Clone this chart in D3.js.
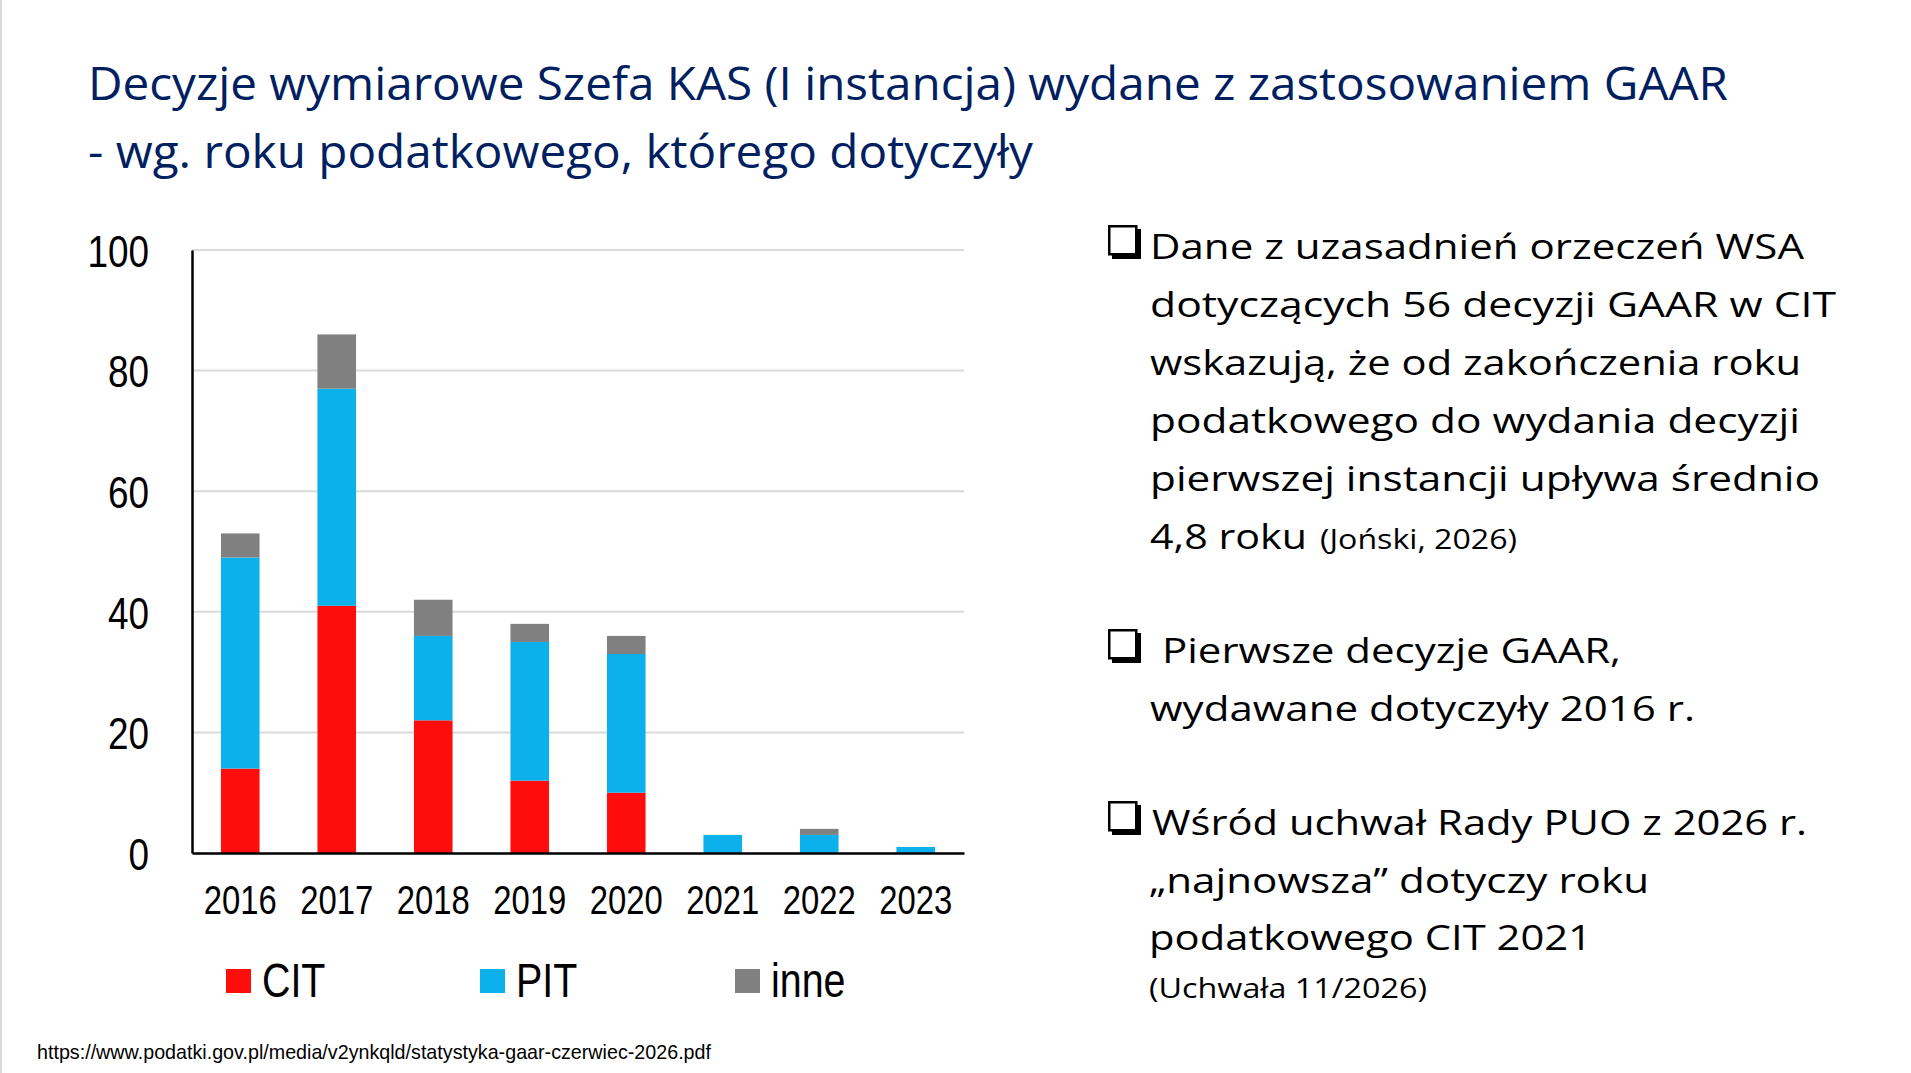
<!DOCTYPE html>
<html>
<head>
<meta charset="utf-8">
<script src="https://cdn.jsdelivr.net/npm/d3@7"></script>
<style>
  html, body { margin: 0; padding: 0; background: #fff; }
  svg { display: block; }
</style>
</head>
<body>
<div id="chart"></div>
<script>
// data
const years = ["2016", "2017", "2018", "2019", "2020", "2021", "2022", "2023"];
const citValues = [14, 41, 22, 12, 10, 0, 0, 0];
const pitValues = [35, 36, 14, 23, 23, 3, 3, 1];
const inneValues = [4, 9, 6, 3, 3, 0, 1, 0];
const seriesKeys = ["CIT", "PIT", "inne"];
const yTicks = [0, 20, 40, 60, 80, 100];

const titleLines = [
  "Decyzje wymiarowe Szefa KAS (I instancja) wydane z zastosowaniem GAAR",
  "- wg. roku podatkowego, którego dotyczyły"
];
const note1 = [
  "Dane z uzasadnień orzeczeń WSA",
  "dotyczących 56 decyzji GAAR w CIT",
  "wskazują, że od zakończenia roku",
  "podatkowego do wydania decyzji",
  "pierwszej instancji upływa średnio",
  "4,8 roku"
];
const note1Source = "(Joński, 2026)";
const note2 = ["Pierwsze decyzje GAAR,", "wydawane dotyczyły 2016 r."];
const note3 = ["Wśród uchwał Rady PUO z 2026 r.", "„najnowsza” dotyczy roku", "podatkowego CIT 2021"];
const note3Source = "(Uchwała 11/2026)";
const sourceUrl = "https://www.podatki.gov.pl/media/v2ynkqld/statystyka-gaar-czerwiec-2026.pdf";

const width = 1911,
  height = 1073,
  plot = { left: 192, right: 964, top: 250, bottom: 853 },
  narrow = "'Liberation Sans Narrow', 'Arial Narrow', 'Liberation Sans', Arial, sans-serif",
  calibriLike = "'Open Sans', 'Noto Sans', sans-serif",
  narrowFactor = 0.82; // Arial Narrow is ~82% of Arial

const colourScale = d3.scaleOrdinal()
  .domain(seriesKeys)
  .range(["#ff0d0d", "#0cb0ea", "#808080"]);

const rows = years.map((yr, i) => ({
  year: yr, CIT: citValues[i], PIT: pitValues[i], inne: inneValues[i]
}));

const stack = d3.stack().keys(seriesKeys)(rows);

const xScale = d3.scaleBand()
  .domain(years)
  .range([plot.left, plot.right])
  .paddingInner(0.6)
  .paddingOuter(0.3);

const yScale = d3.scaleLinear()
  .domain([0, 100])
  .range([plot.bottom, plot.top]);

// squeeze regular sans into a narrow face
function squeeze(sel) {
  sel.each(function() {
    const w = this.getComputedTextLength();
    d3.select(this)
      .attr("textLength", w * narrowFactor)
      .attr("lengthAdjust", "spacingAndGlyphs");
  });
}

const svg = d3.select("#chart").append("svg")
  .attr("width", width)
  .attr("height", height);

// slide edge
svg.append("line")
  .attr("x1", 1).attr("x2", 1).attr("y1", 0).attr("y2", height)
  .attr("stroke", "#d9d9d9").attr("stroke-width", 2);

// title
svg.append("g").selectAll("text")
  .data(titleLines)
  .enter().append("text")
  .attr("x", 88)
  .attr("y", (d, i) => 100 + i * 68)
  .attr("fill", "#002060")
  .style("font-family", calibriLike)
  .style("font-size", "46px")
  .attr("textLength", (d, i) => [1640, 945][i])
  .attr("lengthAdjust", "spacingAndGlyphs")
  .text(d => d);

// gridlines
svg.append("g").attr("class", "grid")
  .selectAll("line")
  .data(yTicks.filter(t => t > 0))
  .enter().append("line")
  .attr("x1", plot.left).attr("x2", plot.right)
  .attr("y1", d => yScale(d)).attr("y2", d => yScale(d))
  .attr("stroke", "#d9d9d9").attr("stroke-width", 2);

// bars
const layer = svg.append("g").selectAll(".layer")
  .data(stack)
  .enter().append("g")
  .attr("class", "layer")
  .attr("fill", d => colourScale(d.key));

layer.selectAll("rect")
  .data(d => d)
  .enter().append("rect")
  .attr("x", d => xScale(d.data.year))
  .attr("width", xScale.bandwidth())
  .attr("y", d => yScale(d[1]))
  .attr("height", d => yScale(d[0]) - yScale(d[1]));

// axes
const yAxis = svg.append("g")
  .attr("transform", `translate(${plot.left},0)`)
  .call(d3.axisLeft(yScale).tickValues(yTicks).tickSize(0).tickSizeOuter(0).tickPadding(43));

const xAxis = svg.append("g")
  .attr("transform", `translate(0,${plot.bottom})`)
  .call(d3.axisBottom(xScale).tickSize(0).tickSizeOuter(0).tickPadding(33));

yAxis.select(".domain").attr("stroke", "#000").attr("stroke-width", 2.5);
xAxis.select(".domain").attr("stroke", "#000").attr("stroke-width", 2.5);
yAxis.selectAll("text")
  .attr("fill", "#000")
  .attr("dy", "0.36em")
  .style("font-family", narrow)
  .style("font-size", "45px")
  .call(squeeze);
xAxis.selectAll("text")
  .attr("fill", "#000")
  .style("font-family", narrow)
  .style("font-size", "40px")
  .call(squeeze);

// legend
const legendX = [226, 480, 735];
const legend = svg.append("g").selectAll(".legend")
  .data(seriesKeys)
  .enter().append("g")
  .attr("class", "legend")
  .attr("transform", (d, i) => `translate(${legendX[i]},969)`);

legend.append("rect")
  .attr("width", 25).attr("height", 24)
  .attr("fill", d => colourScale(d));

legend.append("text")
  .attr("x", 36).attr("y", 28)
  .attr("fill", "#000")
  .style("font-family", narrow)
  .style("font-size", "48px")
  .text(d => d)
  .call(squeeze);

// notes on the right
const notes = svg.append("g").attr("class", "notes");

function bullet(baseline) {
  const g = notes.append("g").attr("transform", `translate(1108,${baseline - 34})`);
  g.append("rect").attr("x", 4).attr("y", 4).attr("width", 29).attr("height", 30).attr("fill", "#000");
  g.append("rect").attr("x", 1.25).attr("y", 1.25).attr("width", 27).attr("height", 28)
    .attr("fill", "#fff").attr("stroke", "#000").attr("stroke-width", 2.5);
}

function noteText(str, x, y, size, len) {
  notes.append("text")
    .attr("x", x).attr("y", y)
    .attr("fill", "#000")
    .style("font-family", calibriLike)
    .style("font-size", size + "px")
    .attr("textLength", len)
    .attr("lengthAdjust", "spacingAndGlyphs")
    .text(str);
}

const note1Widths = [654, 686, 651, 650, 670, 157];
bullet(259);
note1.forEach((s, i) => noteText(s, 1150, 259 + i * 58, 35, note1Widths[i]));
noteText(note1Source, 1320, 549, 27, 197);

bullet(663);
noteText(note2[0], 1162, 663, 35, 459);
noteText(note2[1], 1150, 721, 35, 545);

const note3Widths = [655, 500, 443];
bullet(835);
note3.forEach((s, i) => noteText(s, 1152 - (i > 0 ? 3 : 0), 835 + i * 57.5, 35, note3Widths[i]));
noteText(note3Source, 1149, 998, 27, 278);

// source
svg.append("text")
  .attr("x", 37).attr("y", 1059)
  .attr("fill", "#000")
  .style("font-family", narrow)
  .style("font-size", "21px")
  .attr("textLength", 674)
  .attr("lengthAdjust", "spacingAndGlyphs")
  .text(sourceUrl);
</script>
</body>
</html>
